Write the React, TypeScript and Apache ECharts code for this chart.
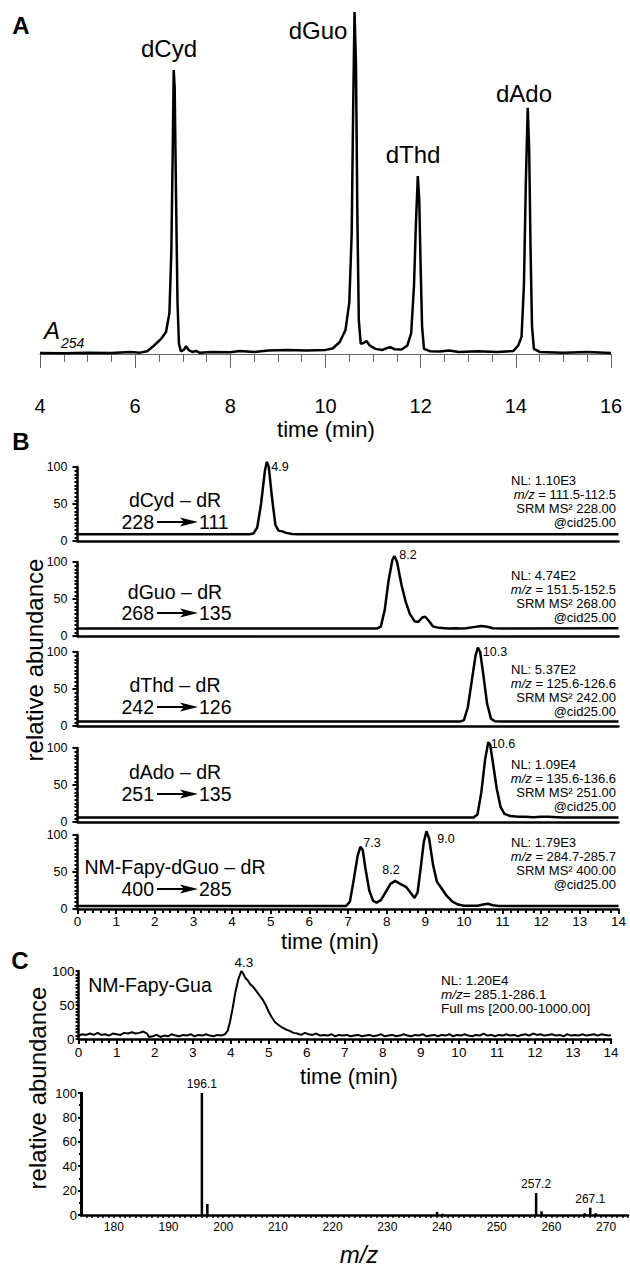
import React, { useEffect, useRef } from 'react';
import * as echarts from 'echarts';

const FONT = '"Liberation Sans", Arial, Helvetica, sans-serif';

// ---------- Panel A: UV trace (A254), time in min, relative units ----------
const A_TRACE: [number, number][] = [
  [4.0, 0.3], [4.5, 0.2], [5.0, 0.4], [5.5, 0.3], [5.9, 0.6], [6.1, 0.4], [6.25, 0.8], [6.4, 2.5],
  [6.55, 4.5], [6.65, 6.5], [6.72, 12], [6.76, 30], [6.79, 60], [6.81, 83], [6.83, 78], [6.86, 45],
  [6.89, 15], [6.92, 3], [6.96, 0.8], [7.02, 1.2], [7.07, 2.3], [7.12, 1.2], [7.2, 0.6], [7.28, 0.9],
  [7.35, 0.4], [7.6, 0.6], [8.0, 0.5], [8.2, 0.9], [8.5, 0.6], [8.8, 1.0], [9.2, 1.2], [9.6, 1.0],
  [10.0, 1.2], [10.15, 1.6], [10.3, 3.5], [10.42, 7], [10.5, 15], [10.55, 35], [10.58, 70], [10.61, 100],
  [10.64, 85], [10.67, 40], [10.7, 10], [10.74, 3], [10.8, 3.2], [10.86, 3.8], [10.93, 2.5], [11.05, 1.5],
  [11.2, 1.2], [11.3, 1.8], [11.36, 2.0], [11.45, 1.4], [11.6, 1.3], [11.72, 2.5], [11.8, 6], [11.86, 20],
  [11.9, 38], [11.94, 52], [11.97, 45], [12.0, 25], [12.03, 8], [12.07, 1.5], [12.2, 0.8], [12.4, 0.7],
  [12.6, 1.0], [12.8, 0.6], [13.2, 0.8], [13.6, 0.6], [13.95, 0.9], [14.05, 2.5], [14.12, 5], [14.17, 20],
  [14.21, 50], [14.25, 72], [14.28, 60], [14.31, 30], [14.34, 8], [14.38, 1.5], [14.5, 0.6], [15.0, 0.4],
  [15.5, 0.6], [16.0, 0.3],
];
const A_PEAK_NAMES = ['dCyd', 'dGuo', 'dThd', 'dAdo'];

// ---------- Panel B: SRM chromatograms ----------
const B_DCYD: [number, number][] = [
  [0, 9], [4.45, 9], [4.55, 10], [4.65, 18], [4.75, 50], [4.85, 95], [4.9, 107], [4.95, 100], [5.03, 60],
  [5.12, 22], [5.2, 14], [5.3, 13], [5.4, 11], [5.55, 9.5], [5.7, 9], [14, 9],
];
const B_DGUO: [number, number][] = [
  [0, 10], [7.75, 10], [7.85, 13], [7.95, 35], [8.05, 75], [8.15, 103], [8.2, 108], [8.27, 100], [8.38, 70],
  [8.5, 45], [8.6, 30], [8.72, 20], [8.82, 19], [8.92, 25], [9.0, 26], [9.1, 20], [9.2, 13], [9.35, 11],
  [9.6, 10], [9.8, 10.5], [9.9, 10], [10.05, 10.5], [10.25, 12], [10.45, 13.5], [10.6, 12.5], [10.75, 10.5],
  [11.0, 10], [14, 10.5],
];
const B_DTHD: [number, number][] = [
  [0, 6], [9.9, 6], [10.0, 8], [10.1, 25], [10.2, 60], [10.3, 95], [10.36, 106], [10.42, 100], [10.5, 70],
  [10.6, 30], [10.7, 10], [10.8, 6.5], [11.0, 6], [14, 6],
];
const B_DADO: [number, number][] = [
  [0, 6], [10.25, 6], [10.35, 10], [10.45, 40], [10.55, 85], [10.63, 108], [10.68, 104], [10.75, 80],
  [10.85, 45], [10.95, 20], [11.05, 11], [11.2, 8], [11.4, 7], [11.6, 7], [11.8, 6.5], [12.0, 7], [12.2, 7],
  [12.4, 6.5], [12.6, 6], [14, 6],
];
const B_FAPY: [number, number][] = [
  [0, 4], [6.95, 4], [7.05, 10], [7.15, 40], [7.25, 72], [7.32, 84], [7.38, 80], [7.45, 55], [7.55, 25],
  [7.65, 11], [7.74, 8.5], [7.85, 12], [8.0, 25], [8.1, 34], [8.22, 38], [8.35, 34], [8.5, 30], [8.62, 22],
  [8.72, 15], [8.8, 22], [8.88, 55], [8.96, 90], [9.03, 105], [9.1, 95], [9.2, 60], [9.3, 37], [9.42, 28],
  [9.55, 18], [9.7, 10], [9.85, 6], [10.0, 4.5], [10.35, 4.5], [10.5, 6], [10.62, 7], [10.75, 5], [10.9, 4.2],
  [14, 4],
];
const B_NAMES = ['dCyd – dR', 'dGuo – dR', 'dThd – dR', 'dAdo – dR', 'NM-Fapy-dGuo – dR'];
const B_PRECURSOR = ['228', '268', '242', '251', '400'];
const B_PRODUCT = ['111', '135', '126', '135', '285'];
const B_NL = ['1.10E3', '4.74E2', '5.37E2', '1.09E4', '1.79E3'];
const B_MZ = ['111.5-112.5', '151.5-152.5', '125.6-126.6', '135.6-136.6', '284.7-285.7'];
const B_SRM = ['228.00', '268.00', '242.00', '251.00', '400.00'];
const B_PEAK_LABELS: string[][] = [['4.9'], ['8.2'], ['10.3'], ['10.6'], ['7.3', '8.2', '9.0']];

// ---------- Panel C: full scan chromatogram and MS spectrum ----------
const C_TRACE: [number, number][] = [
  [0, 5], [0.1, 7], [0.2, 6], [0.3, 8], [0.4, 6], [0.5, 9], [0.6, 6], [0.7, 7], [0.8, 5], [0.9, 8], [1.0, 7],
  [1.1, 6], [1.2, 9], [1.3, 8], [1.4, 10], [1.5, 8], [1.6, 9], [1.7, 11], [1.8, 8], [1.85, 3], [1.95, 4],
  [2.05, 6], [2.15, 3], [2.25, 5], [2.35, 4], [2.45, 7], [2.55, 5], [2.65, 4], [2.75, 6], [2.85, 5], [2.95, 7],
  [3.05, 4], [3.15, 6], [3.25, 5], [3.35, 7], [3.45, 5], [3.55, 4], [3.65, 6], [3.75, 5], [3.85, 7], [3.92, 12],
  [3.98, 25], [4.05, 45], [4.12, 68], [4.2, 88], [4.28, 100], [4.32, 97], [4.38, 90], [4.45, 86], [4.52, 80],
  [4.6, 76], [4.68, 70], [4.76, 64], [4.84, 58], [4.92, 50], [5.0, 40], [5.08, 32], [5.16, 25], [5.25, 21],
  [5.35, 17], [5.45, 14], [5.55, 12], [5.65, 9], [5.75, 8], [5.85, 6], [5.95, 9], [6.05, 7], [6.15, 6],
  [6.25, 8], [6.35, 5], [6.45, 6], [6.55, 5], [6.65, 7], [6.75, 4], [6.85, 6], [6.95, 5], [7.05, 6], [7.15, 4],
  [7.25, 5], [7.35, 6], [7.45, 4], [7.55, 5], [7.65, 6], [7.75, 4], [7.85, 5], [7.95, 7], [8.05, 4], [8.15, 5],
  [8.25, 6], [8.35, 4], [8.45, 5], [8.55, 7], [8.65, 5], [8.75, 4], [8.85, 6], [8.95, 5], [9.05, 7], [9.15, 4],
  [9.25, 5], [9.35, 6], [9.45, 4], [9.55, 6], [9.65, 5], [9.75, 7], [9.85, 4], [9.95, 6], [10.05, 5],
  [10.15, 7], [10.25, 5], [10.35, 4], [10.45, 6], [10.55, 5], [10.65, 8], [10.75, 5], [10.85, 6], [10.95, 4],
  [11.05, 6], [11.15, 5], [11.25, 7], [11.35, 5], [11.45, 6], [11.55, 4], [11.65, 6], [11.75, 7], [11.85, 5],
  [11.95, 8], [12.05, 6], [12.15, 7], [12.25, 5], [12.35, 6], [12.45, 7], [12.55, 5], [12.65, 6], [12.75, 4],
  [12.85, 7], [12.95, 5], [13.05, 6], [13.15, 5], [13.25, 7], [13.35, 5], [13.45, 6], [13.55, 7], [13.65, 5],
  [13.75, 7], [13.85, 6], [13.95, 5], [14, 6],
];
const MS_MZ = [196.1, 197.1, 239.1, 240.1, 257.2, 258.2, 266.1, 267.1, 268.1];
const MS_INT = [100, 9, 2.5, 1, 18, 3, 1.5, 6, 1.5];
const MS_LABELED = [196.1, 257.2, 267.1];
const MS_TICKS = [180, 190, 200, 210, 220, 230, 240, 250, 260, 270];

// ---------- layout (pixels) ----------
const B_TOPS = [467, 562, 652, 748, 835];
const B_H = 74;
const B_LEFT = 77.5;
const B_W = 541;
const B_NAME_Y = [500, 592, 685, 772, 867];
const B_ARROW_Y = [522, 613, 707, 794, 889];
const B_NL_Y = [480, 575, 669, 764, 842];
const B_PEAK_POS: number[][][] = [
  [[280, 467]], [[408, 555]], [[495, 652]], [[503, 744]], [[372, 843], [391, 870], [446, 839]],
];

function txt(x: number, y: number, text: string, size: number, extra: any = {}) {
  return {
    type: 'text', x, y, silent: true,
    style: { text, fontSize: size, fontFamily: FONT, fill: '#000', textAlign: 'center', textVerticalAlign: 'middle', ...extra },
  };
}

function buildOption() {
  const grids: any[] = [];
  const xAxes: any[] = [];
  const yAxes: any[] = [];
  const series: any[] = [];
  const graphics: any[] = [];

  // Panel A
  grids.push({ left: 40, top: 12, width: 571, height: 342 });
  xAxes.push({
    gridIndex: 0, type: 'value', min: 4, max: 16, interval: 2, offset: 16,
    axisLine: { lineStyle: { color: '#666', width: 1 } },
    axisTick: { length: 14, lineStyle: { color: '#666', width: 1 } },
    minorTick: { show: true, splitNumber: 4, length: 8, lineStyle: { color: '#666', width: 1 } },
    axisLabel: { fontSize: 20, color: '#000', fontFamily: FONT, margin: 26 },
    splitLine: { show: false },
  });
  yAxes.push({ gridIndex: 0, type: 'value', min: 0, max: 100, show: false });
  series.push({
    type: 'line', xAxisIndex: 0, yAxisIndex: 0, data: A_TRACE, showSymbol: false, clip: false,
    lineStyle: { color: '#000', width: 2.5 }, z: 3,
  });

  // Panel B
  const bTraces = [B_DCYD, B_DGUO, B_DTHD, B_DADO, B_FAPY];
  for (let i = 0; i < 5; i++) {
    const gi = 1 + i;
    const top = B_TOPS[i];
    const last = i === 4;
    grids.push({ left: B_LEFT, top, width: B_W, height: B_H });
    xAxes.push({
      gridIndex: gi, type: 'value', min: 0, max: 14, interval: 1,
      axisLine: { lineStyle: { color: '#000', width: 2.5 } },
      axisTick: { show: last, length: 5, lineStyle: { color: '#000', width: 2 } },
      minorTick: { show: last, splitNumber: 5, length: 4, lineStyle: { color: '#000', width: 2 } },
      axisLabel: { show: last, fontSize: 13.5, color: '#000', fontFamily: FONT, margin: 5 },
      splitLine: { show: false },
    });
    yAxes.push({
      gridIndex: gi, type: 'value', min: 0, max: 100, interval: 50,
      axisLine: { show: true, lineStyle: { color: '#000', width: 2.5 } },
      axisTick: { show: true, length: 5, lineStyle: { color: '#000', width: 2 } },
      minorTick: { show: true, splitNumber: 10, length: 3, lineStyle: { color: '#000', width: 2 } },
      axisLabel: { fontSize: 12.5, color: '#000', fontFamily: FONT, margin: 10 },
      splitLine: { show: false },
    });
    series.push({
      type: 'line', xAxisIndex: gi, yAxisIndex: gi, data: bTraces[i], showSymbol: false, clip: false,
      lineStyle: { color: '#000', width: 2.5 }, z: 3,
    });

    // compound label and transition
    graphics.push(txt(175, B_NAME_Y[i], B_NAMES[i], 19.5));
    const ay = B_ARROW_Y[i];
    graphics.push(txt(154, ay, B_PRECURSOR[i], 19.5, { textAlign: 'right' }));
    graphics.push({ type: 'line', silent: true, shape: { x1: 157, y1: ay, x2: 186, y2: ay }, style: { stroke: '#000', lineWidth: 2 } });
    graphics.push({ type: 'polygon', silent: true, shape: { points: [[180, ay - 4.5], [198, ay], [180, ay + 4.5], [184, ay]] }, style: { fill: '#000' } });
    graphics.push(txt(199, ay, B_PRODUCT[i], 19.5, { textAlign: 'left' }));

    // info block
    const ny = B_NL_Y[i];
    graphics.push(txt(511, ny, 'NL: ' + B_NL[i], 13, { textAlign: 'left' }));
    graphics.push({
      type: 'text', x: 616, y: ny + 14, silent: true,
      style: {
        text: '{i|m/z} = ' + B_MZ[i], fontSize: 13, fontFamily: FONT, fill: '#000', textAlign: 'right', textVerticalAlign: 'middle',
        rich: { i: { fontStyle: 'italic', fontSize: 13, fontFamily: FONT, fill: '#000' } },
      },
    });
    graphics.push(txt(616, ny + 28, 'SRM MS² ' + B_SRM[i], 13, { textAlign: 'right' }));
    graphics.push(txt(616, ny + 42, '@cid25.00', 13, { textAlign: 'right' }));

    B_PEAK_LABELS[i].forEach((lab, k) => {
      graphics.push(txt(B_PEAK_POS[i][k][0], B_PEAK_POS[i][k][1], lab, 12.5));
    });
  }

  // Panel C top
  grids.push({ left: 78.6, top: 971, width: 532.4, height: 68 });
  xAxes.push({
    gridIndex: 6, type: 'value', min: 0, max: 14, interval: 1,
    axisLine: { lineStyle: { color: '#000', width: 2.5 } },
    axisTick: { length: 5, lineStyle: { color: '#000', width: 2 } },
    minorTick: { show: true, splitNumber: 5, length: 4, lineStyle: { color: '#000', width: 2 } },
    axisLabel: { fontSize: 13.5, color: '#000', fontFamily: FONT, margin: 6 },
    splitLine: { show: false },
  });
  yAxes.push({
    gridIndex: 6, type: 'value', min: 0, max: 100, interval: 50,
    axisLine: { show: true, lineStyle: { color: '#000', width: 2.5 } },
    axisTick: { show: true, length: 3, lineStyle: { color: '#000', width: 2 } },
    minorTick: { show: true, splitNumber: 10, length: 3, lineStyle: { color: '#000', width: 2 } },
    axisLabel: { fontSize: 13.5, color: '#000', fontFamily: FONT, margin: 4 },
    splitLine: { show: false },
  });
  series.push({
    type: 'line', xAxisIndex: 6, yAxisIndex: 6, data: C_TRACE, showSymbol: false, clip: false,
    lineStyle: { color: '#000', width: 2 }, z: 3,
  });

  // Panel C spectrum
  const minorMz: number[] = [];
  for (let v = 175; v <= 274; v++) minorMz.push(v);
  grids.push({ left: 81, top: 1093, width: 547, height: 122 });
  xAxes.push({
    gridIndex: 7, type: 'value', min: 174, max: 274,
    axisLine: { lineStyle: { color: '#000', width: 2.5 } },
    axisTick: { show: true, customValues: minorMz, length: 3, lineStyle: { color: '#000', width: 1.5 } },
    axisLabel: { customValues: MS_TICKS, fontSize: 12, color: '#000', fontFamily: FONT, margin: 6 },
    splitLine: { show: false },
  });
  yAxes.push({
    gridIndex: 7, type: 'value', min: 0, max: 100, interval: 20,
    axisLine: { show: true, lineStyle: { color: '#000', width: 3 } },
    axisTick: { show: true, length: 3, lineStyle: { color: '#000', width: 2 } },
    minorTick: { show: true, splitNumber: 2, length: 2, lineStyle: { color: '#000', width: 2 } },
    axisLabel: { fontSize: 13, color: '#000', fontFamily: FONT, margin: 4 },
    splitLine: { show: false },
  });
  series.push({
    type: 'bar', xAxisIndex: 7, yAxisIndex: 7, barWidth: 2.5, barGap: '-100%',
    itemStyle: { color: '#000' },
    data: MS_MZ.map((mz, k) => ({
      value: [mz, MS_INT[k]],
      label: MS_LABELED.includes(mz)
        ? { show: true, position: 'top', distance: 3, formatter: mz.toFixed(1), fontSize: 12, color: '#000', fontFamily: FONT }
        : { show: false },
    })),
  });

  // Panel A texts
  graphics.push(txt(21, 25, 'A', 24, { fontWeight: 900 }));
  const aPos = [[169, 48], [318, 30], [413, 154], [524, 93]];
  A_PEAK_NAMES.forEach((n, k) => graphics.push(txt(aPos[k][0], aPos[k][1], n, 24)));
  graphics.push(txt(44, 330, 'A', 24, { textAlign: 'left', fontStyle: 'italic' }));
  graphics.push(txt(61, 343, '254', 14, { textAlign: 'left', fontStyle: 'italic' }));
  graphics.push(txt(326, 429, 'time (min)', 22));

  // Panel B texts
  graphics.push(txt(21, 441, 'B', 24, { fontWeight: 900 }));
  graphics.push({ ...txt(34, 660, 'relative abundance', 24), rotation: Math.PI / 2 });
  graphics.push(txt(330, 941, 'time (min)', 22));

  // Panel C texts
  graphics.push(txt(20, 960, 'C', 24, { fontWeight: 900 }));
  graphics.push({ ...txt(37, 1088, 'relative abundance', 24), rotation: Math.PI / 2 });
  graphics.push(txt(150, 985, 'NM-Fapy-Gua', 19.5));
  graphics.push(txt(244, 962, '4.3', 13.5));
  graphics.push(txt(441, 980, 'NL: 1.20E4', 13.5, { textAlign: 'left' }));
  graphics.push({
    type: 'text', x: 441, y: 994, silent: true,
    style: {
      text: '{i|m/z}= 285.1-286.1', fontSize: 13.5, fontFamily: FONT, fill: '#000', textAlign: 'left', textVerticalAlign: 'middle',
      rich: { i: { fontStyle: 'italic', fontSize: 13.5, fontFamily: FONT, fill: '#000' } },
    },
  });
  graphics.push(txt(441, 1008, 'Full ms [200.00-1000.00]', 13.5, { textAlign: 'left' }));
  graphics.push(txt(349, 1076, 'time (min)', 22));
  graphics.push(txt(359, 1254, 'm/z', 24, { fontStyle: 'italic' }));

  return {
    animation: false,
    backgroundColor: '#fff',
    grid: grids,
    xAxis: xAxes,
    yAxis: yAxes,
    series,
    graphic: graphics,
  };
}

export default function App() {
  const ref = useRef<HTMLDivElement>(null);
  useEffect(() => {
    document.body.style.margin = '0';
    const chart = echarts.init(ref.current!, null, { renderer: 'svg' });
    chart.setOption(buildOption() as any);
    return () => chart.dispose();
  }, []);
  return <div ref={ref} style={{ width: 630, height: 1266, position: 'absolute', left: 0, top: 0 }} />;
}
